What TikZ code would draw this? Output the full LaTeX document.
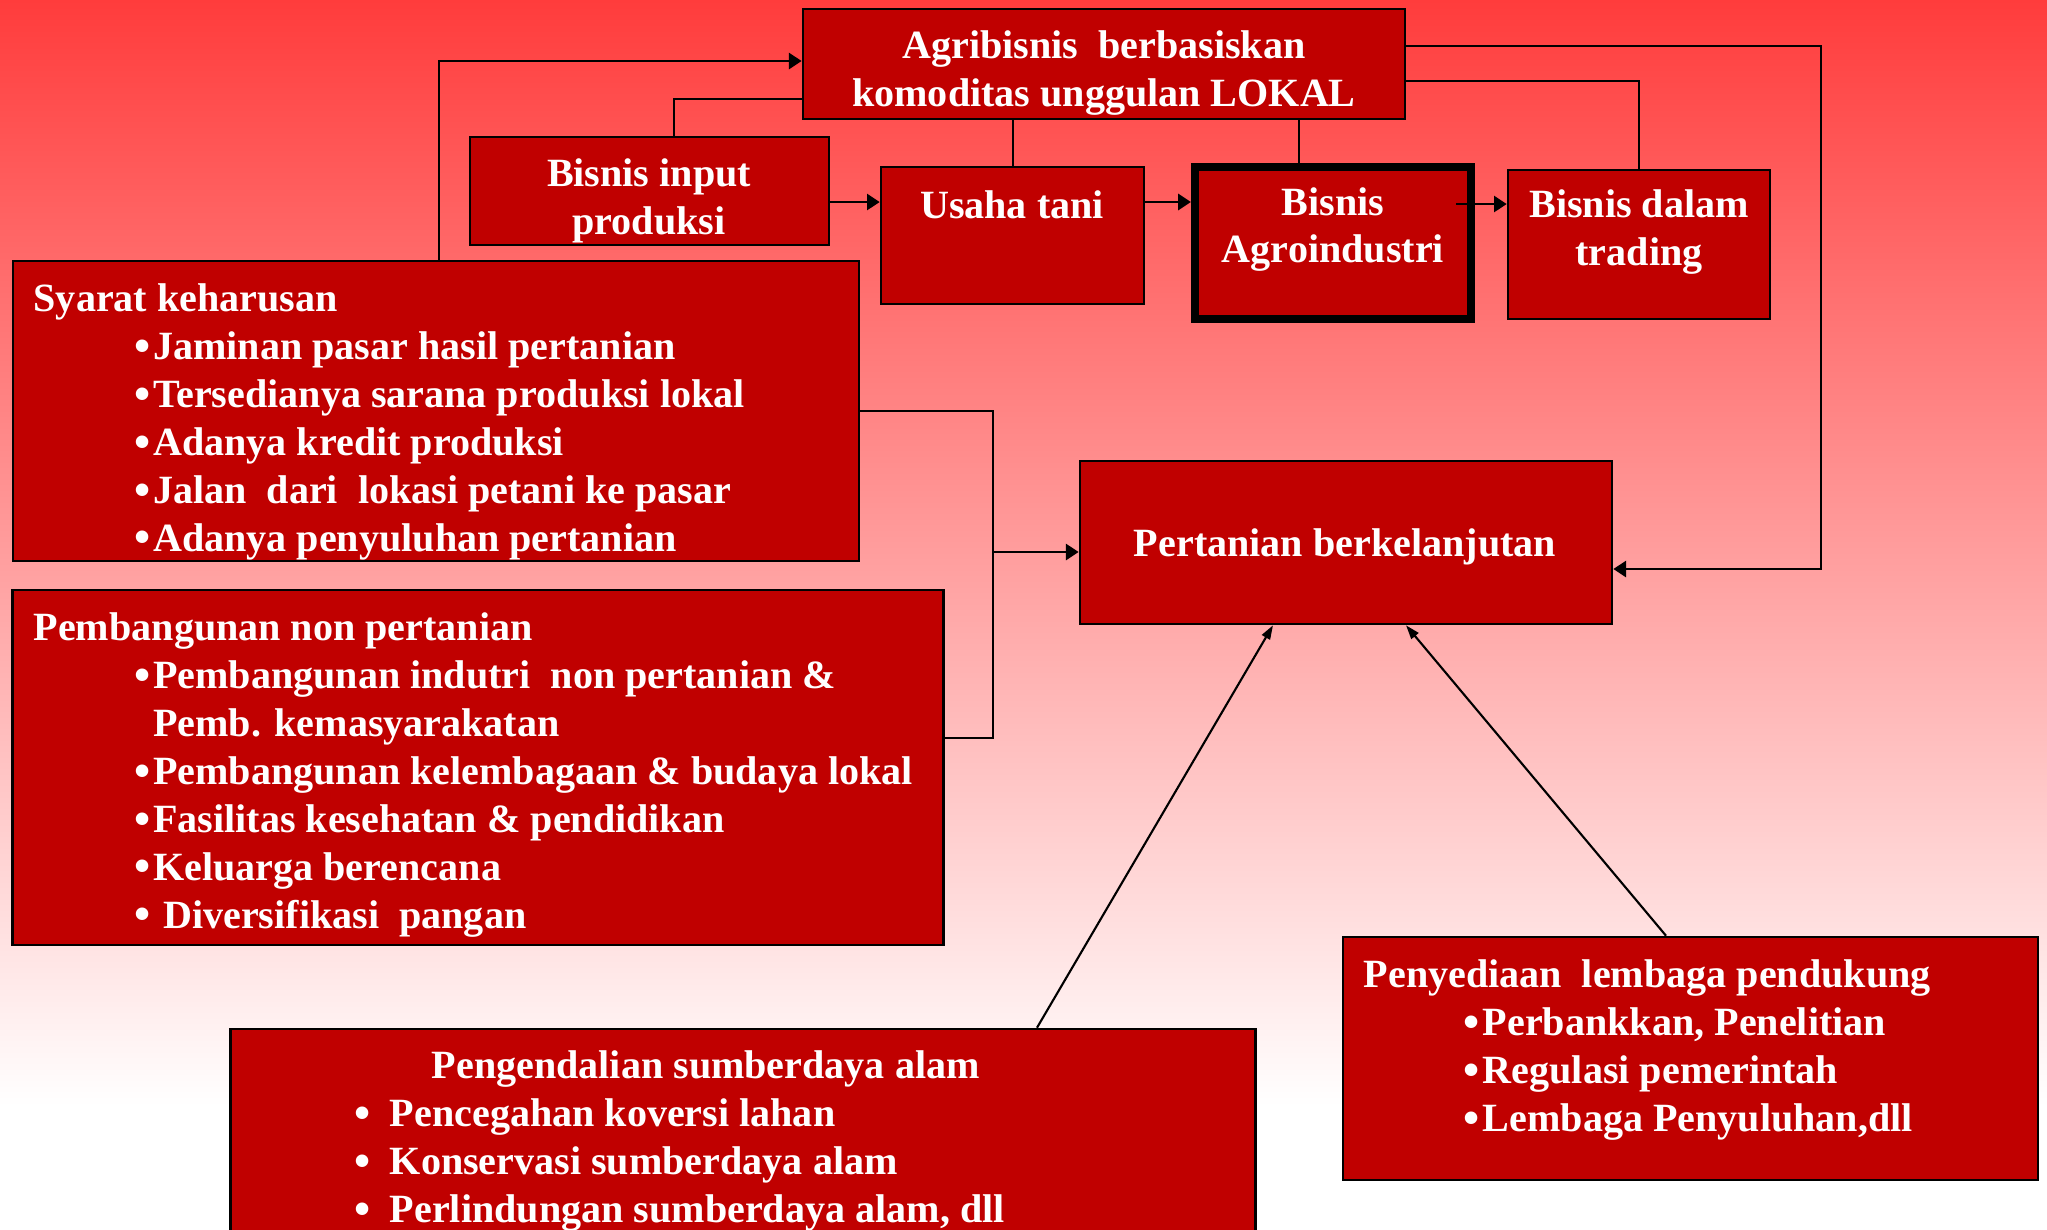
\documentclass[tikz,border=0pt]{standalone}
\usepackage{fontspec}
\setmainfont{Liberation Serif}
\usepackage{tikz}
\usetikzlibrary{arrows.meta,
                calc}
\definecolor{boxred}{RGB}{192,0,0}
\definecolor{toppink}{RGB}{255,60,60}
\pgfdeclareverticalshading{slidefade}{100bp}{color(0bp)=(white); color(30bp)=(white); color(75bp)=(toppink); color(100bp)=(toppink)}
\newcommand{\blt}{\raisebox{-0.5pt}{\scalebox{1.15}{•}}\hspace{0.8pt}}

\begin{document}
\begin{tikzpicture}[x=0.01cm, y=-0.01cm,
    box/.style={draw=black, line width=0.7pt, fill=boxred, inner sep=0pt},
    txt/.style={text=white, font=\bfseries\fontsize{11.4}{13.63}\selectfont, inner sep=0pt, align=left},
    ctxt/.style={txt, align=center},
    link/.style={line width=0.6pt},
    arr/.style={link, -{Triangle[length=3.6pt, width=4.6pt]}},
    slim/.style={link, -{Triangle[length=4pt, width=2.6pt]}}]
    \clip (0,0) rectangle (2047,1229);
    \shade[shading=slidefade] (0,0) rectangle (2047,1229);

    \node[box, minimum width=6.02cm, minimum height=1.10cm] (agri) at (1104,64) {};
    \node[box, minimum width=3.59cm, minimum height=1.08cm] (input) at (649.5,191) {};
    \node[box, minimum width=2.63cm, minimum height=1.37cm] (usaha) at (1012.5,235.5) {};
    \node[box, line width=2.3pt, minimum width=2.76cm, minimum height=1.52cm] (agro) at (1333,243) {};
    \node[box, minimum width=2.62cm, minimum height=1.49cm] (trading) at (1639,244.5) {};
    \node[box, minimum width=8.46cm, minimum height=3.00cm] (syarat) at (436,411) {};
    \node[box, minimum width=9.30cm, minimum height=3.55cm] (pemb) at (478,767.5) {};
    \node[box, minimum width=5.32cm, minimum height=1.63cm] (pert) at (1346,542.5) {};
    \node[box, minimum width=10.24cm, minimum height=2.61cm] (peng) at (743,1159.5) {};
    \node[box, minimum width=6.95cm, minimum height=2.43cm] (peny) at (1690.5,1058.5) {};

    \coordinate (rightrail) at (1821,0);
    \coordinate (merge) at (993,552);

    % feedback to the top box
    \draw[arr] (syarat.north -| 439,0) |- (agri.west |- 0,61);
    \draw[link] (input.north -| 674,0) |- (agri.west |- 0,99);
    \draw[link] (agri.south -| 1013,0) -- (usaha.north -| 1013,0);
    \draw[link] (agri.south -| 1299,0) -- (agro.north -| 1299,0);
    \draw[link] (agri.east |- 0,81) -| (trading.north);
    \draw[arr] (agri.east |- 0,46) -| (rightrail |- 0,569) -- (pert.east |- 0,569);

    % the chain
    \draw[arr] (input.east |- 0,202) -- (usaha.west |- 0,202);
    \draw[arr] (usaha.east |- 0,202) -- (agro.west |- 0,202);
    \draw[arr] ($(agro.east |- 0,204)+(-19,0)$) -- (trading.west |- 0,204);

    \draw[link] (syarat.east |- 0,411) -| (merge);
    \draw[link] (pemb.east |- 0,738) -| (merge);
    \draw[arr] (merge) -- (pert.west |- merge);
    \draw[slim] (peng.north -| 1037,0) -- (pert.south -| 1273,0);
    \draw[slim] (peny.north -| 1666,0) -- (pert.south -| 1406,0);

    \node[ctxt] (agriT) at (1104,73) {Agribisnis\ \ berbasiskan\\komoditas unggulan LOKAL};
    \node[ctxt] (inputT) at (649,201) {Bisnis input\\produksi};
    \node[ctxt] (usahaT) at (1012,205) {Usaha tani};
    \node[ctxt] (agroT) at (1333,229.5) {Bisnis\\Agroindustri};
    \node[ctxt] (tradingT) at (1639,232) {Bisnis dalam\\trading};
    \node[ctxt] (pertT) at (1345,547) {Pertanian berkelanjutan};

    \node[txt, anchor=north west] (syaratT) at (33,283) {Syarat keharusan\\
      \hspace*{28.6pt}\blt Jaminan pasar hasil pertanian\\
      \hspace*{28.6pt}\blt Tersedianya sarana produksi lokal\\
      \hspace*{28.6pt}\blt Adanya kredit produksi\\
      \hspace*{28.6pt}\blt Jalan\ \ dari\ \ lokasi petani ke pasar\\
      \hspace*{28.6pt}\blt Adanya penyuluhan pertanian};
    \node[txt, anchor=north west] (pembT) at (33,612) {Pembangunan non pertanian\\
      \hspace*{28.6pt}\blt Pembangunan indutri\ \ non pertanian \&\\
      \hspace*{28.6pt}\phantom{\blt}Pemb. kemasyarakatan\\
      \hspace*{28.6pt}\blt Pembangunan kelembagaan \& budaya lokal\\
      \hspace*{28.6pt}\blt Fasilitas kesehatan \& pendidikan\\
      \hspace*{28.6pt}\blt Keluarga berencana\\
      \hspace*{28.6pt}\blt\ Diversifikasi\ \ pangan};
    \node[txt, anchor=north west] (pengT) at (354,1050) {\hspace*{21.9pt}Pengendalian sumberdaya alam\\
      \makebox[10pt][l]{\blt}Pencegahan koversi lahan\\
      \makebox[10pt][l]{\blt}Konservasi sumberdaya alam\\
      \makebox[10pt][l]{\blt}Perlindungan sumberdaya alam, dll};
    \node[txt, anchor=north west] (penyT) at (1363,959) {Penyediaan\ \ lembaga pendukung\\
      \hspace*{28.5pt}\blt Perbankkan, Penelitian\\
      \hspace*{28.5pt}\blt Regulasi pemerintah\\
      \hspace*{28.5pt}\blt Lembaga Penyuluhan,dll};
\end{tikzpicture}
\end{document}
